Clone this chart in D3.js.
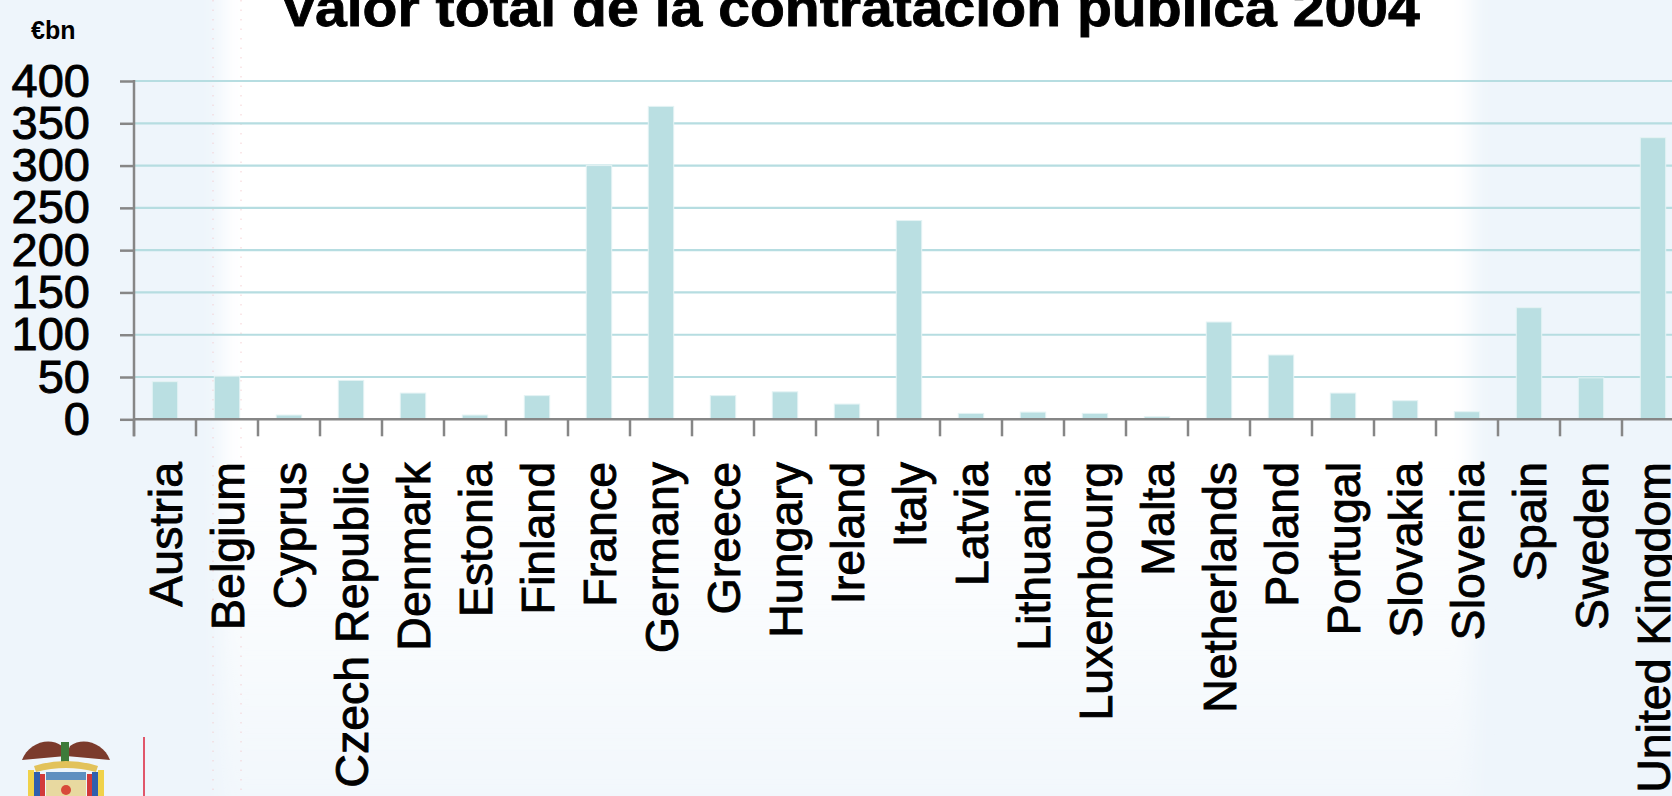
<!DOCTYPE html>
<html>
<head>
<meta charset="utf-8">
<script src="https://cdn.jsdelivr.net/npm/d3@7"></script>
<style>
  html, body { margin: 0; padding: 0; background: #eff5fb; overflow: hidden; }
  svg { display: block; }
  text { font-family: "Liberation Sans", Arial, sans-serif; }
</style>
</head>
<body>
<svg id="chart" width="1672" height="796"></svg>
<script>
// ---- data ----
const countries = ["Austria","Belgium","Cyprus","Czech Republic","Denmark","Estonia","Finland","France","Germany","Greece","Hungary","Ireland","Italy","Latvia","Lithuania","Luxembourg","Malta","Netherlands","Poland","Portugal","Slovakia","Slovenia","Spain","Sweden","United Kingdom"];
const values = [44.5, 51, 5, 46, 31, 5, 28, 300, 370, 28, 32.5, 18, 235, 7, 8.5, 7, 3, 115, 76, 31, 22, 9, 132, 49, 333];
const yTicks = [0, 50, 100, 150, 200, 250, 300, 350, 400];
const titleText = "Valor total de la contratación pública 2004";
const unitText = "€bn";

// ---- layout ----
const W = 1672, H = 796;
const x0 = 134, step = 62;
const yTop = 81, yBase = 419.3;

const svg = d3.select("#chart");
const defs = svg.append("defs");
defs.append("filter").attr("id", "soft").attr("x", "-20%").attr("y", "-20%").attr("width", "140%").attr("height", "140%")
  .append("feGaussianBlur").attr("stdDeviation", 10);
const vg = defs.append("linearGradient").attr("id", "vfade").attr("x1", 0).attr("y1", 0).attr("x2", 0).attr("y2", 1);
vg.append("stop").attr("offset", 0).attr("stop-color", "#fff").attr("stop-opacity", 1);
vg.append("stop").attr("offset", 0.58).attr("stop-color", "#fff").attr("stop-opacity", 1);
vg.append("stop").attr("offset", 1).attr("stop-color", "#fff").attr("stop-opacity", 0.15);

// background
svg.append("rect").attr("width", W).attr("height", H).attr("fill", "#eef5fb");
svg.append("rect").attr("x", 222).attr("y", -40).attr("width", 1250).attr("height", 876)
  .attr("fill", "url(#vfade)").attr("filter", "url(#soft)");
// faint dotted guides seen in the background
svg.append("g").selectAll("line").data([213, 241]).join("line")
  .attr("x1", d => d).attr("x2", d => d).attr("y1", 0).attr("y2", 796)
  .attr("stroke", "#f3c9cc").attr("stroke-width", 1.2).attr("stroke-dasharray", "1.5,8").attr("opacity", 0.7);

// scales
const xb = d3.scaleBand().domain(countries).range([x0, x0 + step * countries.length]).padding(0);
const xBar = d3.scaleBand().domain(countries).range([x0, x0 + step * countries.length])
  .paddingInner(0.59).paddingOuter(0.295);
const y = d3.scaleLinear().domain([0, 400]).range([yBase, yTop]);

// gridlines
svg.append("g").selectAll("line").data(yTicks.filter(d => d > 0)).join("line")
  .attr("x1", x0).attr("x2", W)
  .attr("y1", d => y(d)).attr("y2", d => y(d))
  .attr("stroke", "#b6dde1").attr("stroke-width", 2.2);

// bars
svg.append("g").selectAll("rect").data(countries).join("rect")
  .attr("x", d => xBar(d))
  .attr("width", xBar.bandwidth())
  .attr("y", (d, i) => y(values[i]))
  .attr("height", (d, i) => yBase - y(values[i]))
  .attr("fill", "#badfe2")
  .attr("stroke", "#e4f3f4").attr("stroke-width", 1);

// y axis
const yAxis = d3.axisLeft(y).tickValues(yTicks).tickSize(14).tickPadding(30).tickFormat(d3.format("d"));
const gy = svg.append("g").attr("transform", `translate(${x0},0)`).call(yAxis);
gy.select(".domain").remove();
gy.selectAll(".tick line").attr("stroke", "#868686").attr("stroke-width", 2.5);
gy.selectAll(".tick text").attr("fill", "#000").attr("font-size", 47)
  .attr("stroke", "#000").attr("stroke-width", 0.9)
  .attr("font-family", "'Liberation Sans', Arial, sans-serif");
svg.append("line").attr("x1", x0).attr("x2", x0).attr("y1", yTop - 1).attr("y2", yBase + 17)
  .attr("stroke", "#868686").attr("stroke-width", 2.5);

// x axis line + boundary ticks
svg.append("line").attr("x1", x0).attr("x2", W).attr("y1", yBase).attr("y2", yBase)
  .attr("stroke", "#868686").attr("stroke-width", 2.5);
const bounds = countries.map(c => xb(c)).concat([xb(countries[countries.length - 1]) + xb.bandwidth()]);
svg.append("g").selectAll("line").data(bounds).join("line")
  .attr("x1", d => d).attr("x2", d => d)
  .attr("y1", yBase).attr("y2", yBase + 17)
  .attr("stroke", "#868686").attr("stroke-width", 2.5);

// x labels (rotated)
svg.append("g").selectAll("text").data(countries).join("text")
  .attr("transform", d => `translate(${xb(d) + xb.bandwidth() / 2 + 17},462) rotate(-90)`)
  .attr("text-anchor", "end")
  .attr("font-size", 46.5)
  .attr("fill", "#000").attr("stroke", "#000").attr("stroke-width", 0.9)
  .text(d => d);

// unit label
svg.append("text").attr("x", 31).attr("y", 39).attr("font-size", 25).attr("font-weight", "bold")
  .attr("fill", "#000").text(unitText);

// title (stretched to measured width)
const title = svg.append("text").attr("font-size", 52).attr("font-weight", "bold").attr("fill", "#000")
  .attr("stroke", "#000").attr("stroke-width", 0.8)
  .text(titleText);
const tw = title.node().getComputedTextLength();
title.attr("transform", `translate(280,25.5) scale(${1140 / tw},1)`);

// logo (simplified coat of arms) and red rule
const logo = svg.append("g");
logo.append("path").attr("d", "M22,760 C28,744 48,736 62,746 L66,756 Z").attr("fill", "#7b3b2c");
logo.append("path").attr("d", "M110,760 C104,744 84,736 70,746 L66,756 Z").attr("fill", "#7b3b2c");
logo.append("rect").attr("x", 61).attr("y", 742).attr("width", 8).attr("height", 24).attr("fill", "#3d7b3a");
logo.append("path").attr("d", "M34,766 Q66,756 98,766 L96,772 Q66,764 36,772 Z").attr("fill", "#e2c25a");
logo.append("rect").attr("x", 28).attr("y", 770).attr("width", 6).attr("height", 26).attr("fill", "#f0d24a");
logo.append("rect").attr("x", 34).attr("y", 772).attr("width", 6).attr("height", 24).attr("fill", "#2f5fae");
logo.append("rect").attr("x", 40).attr("y", 774).attr("width", 5).attr("height", 22).attr("fill", "#d23a3a");
logo.append("rect").attr("x", 98).attr("y", 770).attr("width", 6).attr("height", 26).attr("fill", "#f0d24a");
logo.append("rect").attr("x", 92).attr("y", 772).attr("width", 6).attr("height", 24).attr("fill", "#2f5fae");
logo.append("rect").attr("x", 87).attr("y", 774).attr("width", 5).attr("height", 22).attr("fill", "#d23a3a");
logo.append("rect").attr("x", 46).attr("y", 772).attr("width", 40).attr("height", 8).attr("fill", "#5f8fc0");
logo.append("rect").attr("x", 46).attr("y", 780).attr("width", 40).attr("height", 16).attr("fill", "#e8d9a0");
logo.append("circle").attr("cx", 66).attr("cy", 790).attr("r", 5).attr("fill", "#d84a3a");
svg.append("line").attr("x1", 144).attr("x2", 144).attr("y1", 737).attr("y2", 796)
  .attr("stroke", "#e0566a").attr("stroke-width", 2);
</script>
</body>
</html>
